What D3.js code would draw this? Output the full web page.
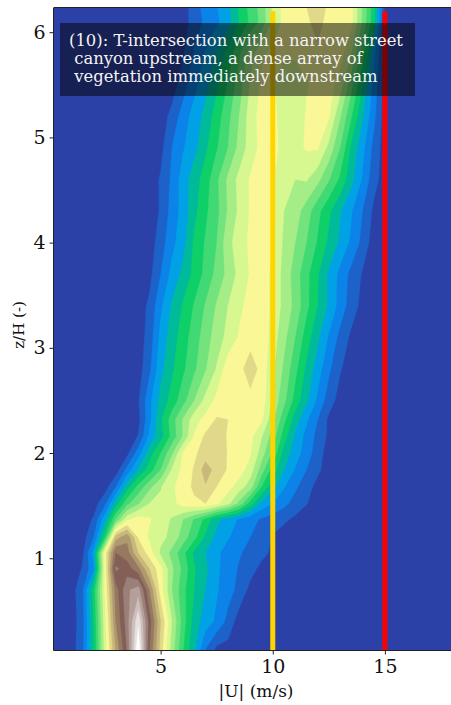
<!DOCTYPE html>
<html>
<head>
<meta charset="utf-8">
<script src="https://cdn.jsdelivr.net/npm/d3@7/dist/d3.min.js"></script>
<style>
html,body{margin:0;padding:0;background:#ffffff;}
svg{display:block;}
text{font-family:"DejaVu Serif","Liberation Serif",serif;}
</style>
</head>
<body>
<svg id="chart" width="451" height="705"></svg>
<script>
// ---------------- DATA ----------------
// grid: |U| columns (m/s, regular) and z/H rows (irregular heights)
const uStart = 0, uStep = 0.5, uCount = 37;            // 0 .. 18 m/s
const zRows = [0.1,0.4,0.7,0.9,1.05,1.2,1.37,1.52,1.68,1.84,2.0,2.16,2.32,2.5,2.8,3.1,3.4,3.7,4.0,4.3,4.6,4.9,5.2,5.5,5.8,6.1,6.4];
// first non-zero |U| of each row, then the contour-level values along that row
const rowStartU = [1.5,1.5,1.5,1.5,1.5,2.0,2.0,2.5,3.0,3.5,3.5,4.0,4.0,4.0,4.5,4.5,4.5,4.5,5.0,5.0,5.0,5.0,5.5,6.0,6.0,6.5,6.5];
const rowValues = [
  [1.2,4.3,8.8,12.5,15.5,20.5,14.5,11,8,5.5,3.5,1.3],
  [1.0,4.5,9,13.5,16,19.3,15,11.5,8.5,6,4,3,2.3,1.2],
  [1.2,4.8,9.5,14,16.3,17,13.5,10,7.5,5.8,4.5,3.5,2.6,1.9,1.2,0.2],
  [0.55,2.2,9.5,15.7,15,13.8,11.5,9.8,7.7,6.2,4.6,3.7,2.7,2,1.4,0.9,0.2],
  [0.2,2.8,9.8,14.5,14,11.5,10,8.3,7.2,5.8,4.3,3.5,2.7,2.1,1.6,1.2,0.8,0.3],
  [1.4,5,12,13.2,10.4,9.3,8.8,8.2,7,5.8,4.3,3.2,2.6,2,1.5,1,0.4],
  [0.6,3,6.5,9.2,10,9.6,9,8.4,7.5,6.4,5.2,3.8,3,2.4,1.8,1.4,1,0.7,0.3],
  [1.2,3.9,6.2,7.4,8.5,8.8,9.2,9.9,10.3,10.5,9.7,8.8,7.2,5,3.2,2.5,1.8,1.1,0.55],
  [1.5,4,5.8,7.2,8.4,9.3,10,10.7,11.4,10.5,9.9,9,8,5.5,3.8,2.6,1.7,0.9,0.2],
  [1.8,3.6,5,6.5,8.6,9.8,10.6,12,11.1,10.4,10,9,7,5,3.5,2.4,1.5,0.7],
  [0.2,2,4,5.5,7.3,9.6,10.3,11,11,10.45,10.1,9.6,8,6.3,4.1,3,2,1],
  [0.55,2.7,4.1,5.8,7.6,9.6,10.7,11,10.4,10.1,9.8,8.6,7,5,3.3,2.2,1.2,0.3],
  [0.2,2.2,4.3,6,7.6,9.1,9.8,10.6,10.5,10.2,10,9.7,7.8,5.8,4,2.7,1.5,0.3],
  [0.4,2.2,3.8,4.9,6.1,7.5,8.8,9.8,10.2,10.3,10.2,10.2,8.2,6.8,5.1,3.7,2.3,1,0.1],
  [1.3,3.2,4.3,5.3,6.3,7.4,8.6,10.1,10.2,11.0,10.2,8.7,7.3,5.8,4.3,3,1.7,0.6],
  [0.9,2.8,4,5,6,7,8,8.8,9.6,10.1,10.3,9,7.8,6.5,5,3.7,2.4,1.2,0.3],
  [0.7,2.3,3.6,4.6,5.6,6.6,7.6,8.5,9.3,9.8,10.2,9.2,8.2,7.2,5.8,4.5,3.3,2.1,1,0.2],
  [0.2,1.5,2.8,3.8,4.8,5.8,6.8,7.8,8.8,9.6,10.1,9.2,8.2,7,5.8,4.6,3.3,2.2,1.2,0.4],
  [1.0,2.2,3.1,4.7,5.6,6.5,8.2,9.0,9.7,10.1,9.6,8.3,7.5,6.5,5.4,4.3,3.3,2.3,1.2],
  [0.6,1.9,2.9,4.2,5.3,6.2,7.6,8.7,9.6,10.1,9.6,8.5,8,7,5.8,4.7,3.6,2.6,1.5,0.3],
  [0.6,1.7,3,4,5,6.3,7.7,8.8,9.6,10.1,9.6,8.8,8.5,8.6,7.8,6.6,5.3,3.8,2.4,0.9],
  [0.2,1.5,2.4,3.2,4.3,5.4,6.5,7.8,9,9.8,9.8,9.2,9.2,9.6,9.6,8.2,6.5,4.3,2.8,1.2],
  [0.8,2,2.9,3.8,5,6.2,7.5,9,9.9,9.8,9,8.8,9.6,10.1,9.6,7.6,5.6,3.6,1.8],
  [1,2.2,3.2,4.3,5.6,7,8.6,9.7,9.6,9,8.8,9.4,10,10,9,6.8,4.5,2.2],
  [0.4,1.6,2.6,3.6,4.8,6.3,8,9.3,9.8,9.6,9.7,10,10.4,10.2,10,8.5,6,2.8],
  [1.0,1.7,2.3,3.1,4.5,5.7,6.8,8.6,9.8,10,10.4,10.7,10.3,10,9.8,7.3,4.8,0.3],
  [1.2,2,2.6,3.4,4.8,6,7,8.8,9.9,10.1,10.6,11.3,10.5,10,9.8,7.5,5,0.3]
];
const levelThresholds = [0.5,1.5,2.5,3.5,4.5,5.5,6.5,7.5,8.5,9.5,10.5,11.5,12.5,13.5,14.5,15.5,16.5,17.5,18.5,19.5];
// matplotlib "terrain" colormap stops
const cmapStops = [0, 0.15, 0.25, 0.5, 0.75, 1];
const cmapColors = ["rgb(51,51,153)","rgb(0,153,255)","rgb(0,204,102)","rgb(255,255,153)","rgb(128,92,84)","rgb(255,255,255)"];
const xTicks = [5, 10, 15];
const yTicks = [1, 2, 3, 4, 5, 6];
const refLineU = [10, 15];
const refLineColors = ["#ffd500", "#ff0000"];
const refLineTop = 6.2;
const xLabel = "|U| (m/s)";
const yLabel = "z/H (-)";
const noteLines = ["(10): T-intersection with a narrow street", " canyon upstream, a dense array of", " vegetation immediately downstream"];

// ---------------- BUILD ----------------
const W = 451, H = 705;
const L = 54, R = 458, T = 8, B = 650;
const x = d3.scaleLinear().domain([0.245, 18.26]).range([L, R]);
const y = d3.scaleLinear().domain([0.128, 6.23]).range([B, T]);
const cmap = d3.scaleLinear().domain(cmapStops).range(cmapColors).interpolate(d3.interpolateRgb);
const bandColor = k => cmap(Math.min(1, 0.02 + 0.049 * k));

const nCols = uCount, nRows = zRows.length;
const grid = [];
rowValues.forEach((vals, i) => {
  const row = new Array(nCols).fill(0);
  const j0 = Math.round((rowStartU[i] - uStart) / uStep);
  vals.forEach((v, k) => { if (j0 + k < nCols) row[j0 + k] = v; });
  grid.push(...row);
});
// grid row index -> z/H (rows are not equally spaced)
const rowToZ = d3.scaleLinear().domain(d3.range(nRows)).range(zRows);

const svg = d3.select("#chart");
svg.append("rect").attr("width", W).attr("height", H).attr("fill", "#fff");
svg.append("defs").append("clipPath").attr("id", "plotClip")
  .append("rect").attr("x", L).attr("y", T).attr("width", R - L).attr("height", B - T);

const plot = svg.append("g").attr("clip-path", "url(#plotClip)");
plot.append("rect").attr("x", L).attr("y", T).attr("width", R - L).attr("height", B - T).attr("fill", bandColor(0));

const contours = d3.contours().size([nCols, nRows]).thresholds(levelThresholds).smooth(true)(grid);
const proj = d3.geoTransform({
  point(px, py) {
    this.stream.point(x(uStart + (px - 0.5) * uStep), y(rowToZ(py - 0.5)));
  }
});
const path = d3.geoPath(proj);
plot.selectAll("path.band").data(contours).join("path")
  .attr("class", "band")
  .attr("d", path)
  .attr("fill-rule", "evenodd")
  .attr("fill", (d, i) => bandColor(i + 1))
  .attr("stroke", (d, i) => bandColor(i + 1))
  .attr("stroke-width", 0.3);

// reference lines
refLineU.forEach((u, i) => {
  plot.append("line")
    .attr("x1", x(u)).attr("x2", x(u))
    .attr("y1", y(0.128)).attr("y2", y(refLineTop))
    .attr("stroke", refLineColors[i]).attr("stroke-width", 5);
});

// annotation box
const note = svg.append("g");
note.append("rect").attr("x", 60).attr("y", 23).attr("width", 355).attr("height", 73)
  .attr("fill", "#000").attr("fill-opacity", 0.5);
note.selectAll("text").data(noteLines).join("text")
  .attr("x", 69).attr("y", (d, i) => 45.5 + i * 18.2)
  .attr("fill", "#f4f4f4").attr("font-size", 16.4)
  .style("white-space", "pre")
  .text(d => d);

// spines
const spine = svg.append("g").attr("stroke", "#222").attr("stroke-width", 1).attr("fill", "none");
spine.append("line").attr("x1", L - 0.5).attr("x2", L - 0.5).attr("y1", T).attr("y2", B + 0.5);
spine.append("line").attr("x1", L - 0.5).attr("x2", W).attr("y1", B + 0.5).attr("y2", B + 0.5);
spine.append("line").attr("x1", L - 0.5).attr("x2", W).attr("y1", T - 0.5).attr("y2", T - 0.5);

// axes
const xAxis = d3.axisBottom(x).tickValues(xTicks).tickSize(4).tickPadding(5).tickFormat(d3.format("d"));
const gx = svg.append("g").attr("transform", `translate(0,${B + 0.5})`).call(xAxis);
gx.select(".domain").remove();
gx.selectAll("text").attr("font-size", 19).attr("fill", "#111").attr("font-family", '"DejaVu Serif",serif');
gx.selectAll("line").attr("stroke", "#222");

const yAxis = d3.axisLeft(y).tickValues(yTicks).tickSize(4).tickPadding(4).tickFormat(d3.format("d"));
const gy = svg.append("g").attr("transform", `translate(${L - 0.5},0)`).call(yAxis);
gy.select(".domain").remove();
gy.selectAll("text").attr("font-size", 19).attr("fill", "#111").attr("font-family", '"DejaVu Serif",serif');
gy.selectAll("line").attr("stroke", "#222");

svg.append("text").attr("x", 256).attr("y", 697).attr("text-anchor", "middle")
  .attr("font-size", 17).attr("fill", "#111").text(xLabel);
svg.append("text").attr("transform", "translate(24,325) rotate(-90)").attr("text-anchor", "middle")
  .attr("font-size", 15).attr("fill", "#111").text(yLabel);
</script>
</body>
</html>
